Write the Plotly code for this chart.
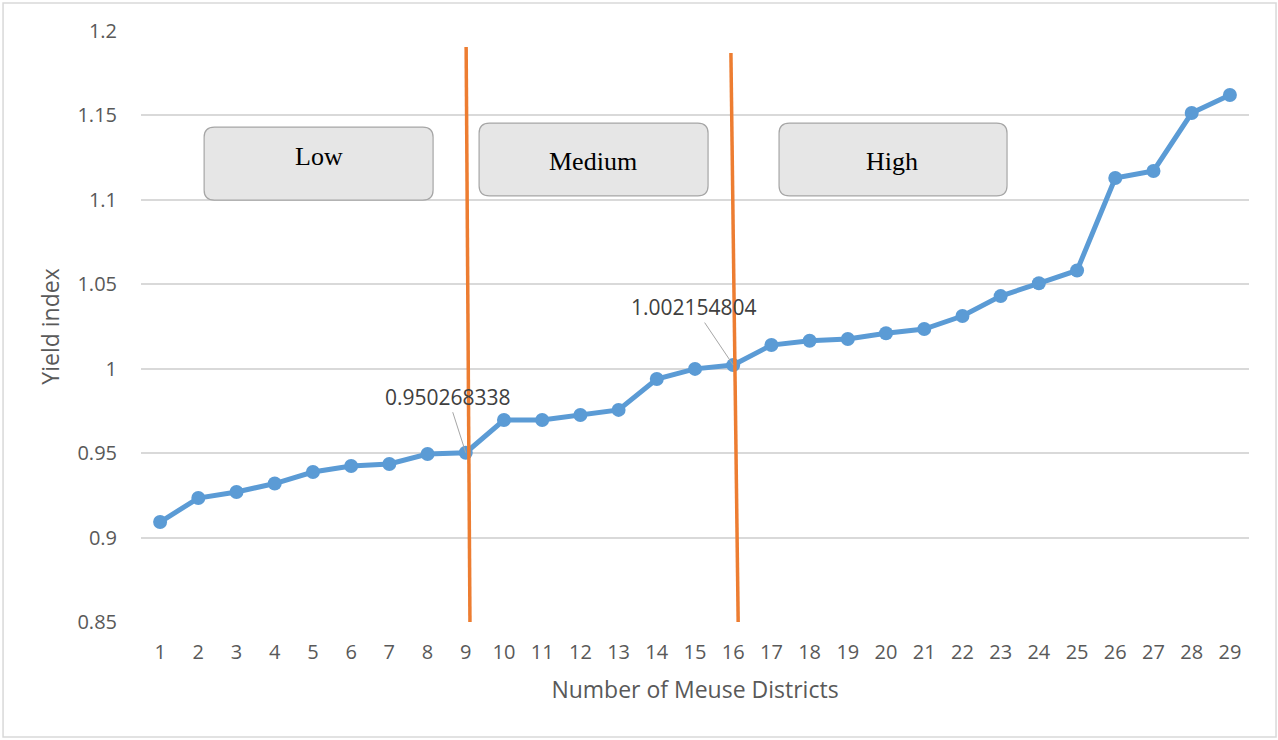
import plotly.graph_objects as go

# District rank and yield index (sorted ascending)
districts = list(range(1, 30))
yield_index = [
    0.9092, 0.9234, 0.9270, 0.9320, 0.9388, 0.9424, 0.9436, 0.9495, 0.950268338,
    0.9696, 0.9696, 0.9726, 0.9756, 0.9939, 0.9999, 1.002154804,
    1.0140, 1.0166, 1.0176, 1.0210, 1.0235, 1.0312, 1.0430, 1.0506, 1.0582,
    1.1129, 1.1171, 1.1514, 1.1621,
]

y_ticks = [0.85, 0.9, 0.95, 1.0, 1.05, 1.1, 1.15, 1.2]
y_tick_text = ["0.85", "0.9", "0.95", "1", "1.05", "1.1", "1.15", "1.2"]

# Class boundaries (district index) and class names
boundary_districts = [9, 16]
class_names = ["Low", "Medium", "High"]
labelled_districts = [9, 16]

BLUE = "#5B9BD5"
ORANGE = "#ED7D31"
GRID = "#D9D9D9"
TEXT = "#595959"

fig = go.Figure()
fig.add_trace(go.Scatter(
    x=districts, y=yield_index, mode="lines+markers",
    line=dict(color=BLUE, width=5),
    marker=dict(color=BLUE, size=14),
    hoverinfo="x+y", showlegend=False,
))

shapes = []
# Slightly slanted boundary lines between yield classes
bound_geom = [(0.01, 0.11, 1.1905), (-0.06, 0.13, 1.187)]
for b, (d_top, d_bot, top) in zip(boundary_districts, bound_geom):
    shapes.append(dict(type="line", xref="x", yref="y",
                       x0=b + d_top, y0=top, x1=b + d_bot, y1=0.85,
                       line=dict(color=ORANGE, width=3.5), layer="above"))

# Rounded class boxes
def rounded_box(x0, x1, y0, y1, rx=0.27, ry=0.006):
    return (f"M {x0+rx},{y1} L {x1-rx},{y1} Q {x1},{y1} {x1},{y1-ry} "
            f"L {x1},{y0+ry} Q {x1},{y0} {x1-rx},{y0} "
            f"L {x0+rx},{y0} Q {x0},{y0} {x0},{y0+ry} "
            f"L {x0},{y1-ry} Q {x0},{y1} {x0+rx},{y1} Z")

box_geom = [(2.152, 8.145, 1.0999, 1.1431, 5.16, 1.1254),
            (9.349, 15.342, 1.1023, 1.1455, 12.33, 1.123),
            (17.20, 23.167, 1.1023, 1.1455, 20.16, 1.123)]
annotations = []
for name, (x0, x1, y0, y1, tx, ty) in zip(class_names, box_geom):
    shapes.append(dict(type="path", xref="x", yref="y",
                       path=rounded_box(x0, x1, y0, y1),
                       fillcolor="#E6E6E6", line=dict(color="#A6A6A6", width=1.2),
                       layer="above"))
    annotations.append(dict(x=tx, y=ty, xref="x", yref="y", text=name,
                            showarrow=False,
                            font=dict(family="Liberation Serif", size=26, color="#000000")))

# Data labels with leader lines
label_offsets = [(-18, -56), (-39, -58)]
for d, (ax, ay) in zip(labelled_districts, label_offsets):
    v = yield_index[d - 1]
    annotations.append(dict(x=d, y=v, xref="x", yref="y", text=f"{v:.9f}",
                            showarrow=True, arrowhead=0, arrowwidth=1,
                            arrowcolor="#A6A6A6", ax=ax, ay=ay, standoff=0,
                            font=dict(family="Open Sans", size=21, color="#404040")))

# Outer chart border
shapes.append(dict(type="rect", xref="paper", yref="paper",
                   x0=-0.1245, x1=1.0244, y0=-0.1946, y1=1.0474,
                   line=dict(color=GRID, width=1.5), fillcolor="rgba(0,0,0,0)",
                   layer="below"))

fig.update_layout(
    width=1278, height=740,
    margin=dict(l=141, r=29, t=31, b=118),
    paper_bgcolor="white", plot_bgcolor="white",
    shapes=shapes, annotations=annotations,
    font=dict(family="Open Sans", color=TEXT, size=20),
    xaxis=dict(
        range=[0.5, 29.5], tickmode="array", tickvals=districts,
        ticktext=[str(d) for d in districts],
        showgrid=False, zeroline=False, showline=False,
        ticks="outside", ticklen=12, tickcolor="rgba(0,0,0,0)",
        tickfont=dict(size=20, color=TEXT),
        title=dict(text="Number of Meuse Districts", font=dict(size=23, color=TEXT), standoff=17),
    ),
    yaxis=dict(
        range=[0.85, 1.2], tickmode="array", tickvals=y_ticks, ticktext=y_tick_text,
        showgrid=True, gridcolor=GRID, gridwidth=1.5, zeroline=False, showline=False,
        ticks="outside", ticklen=19, tickcolor="rgba(0,0,0,0)",
        tickfont=dict(size=20, color=TEXT),
        title=dict(text="Yield index", font=dict(size=23, color=TEXT), standoff=11),
    ),
)

fig.write_html("out.html")
